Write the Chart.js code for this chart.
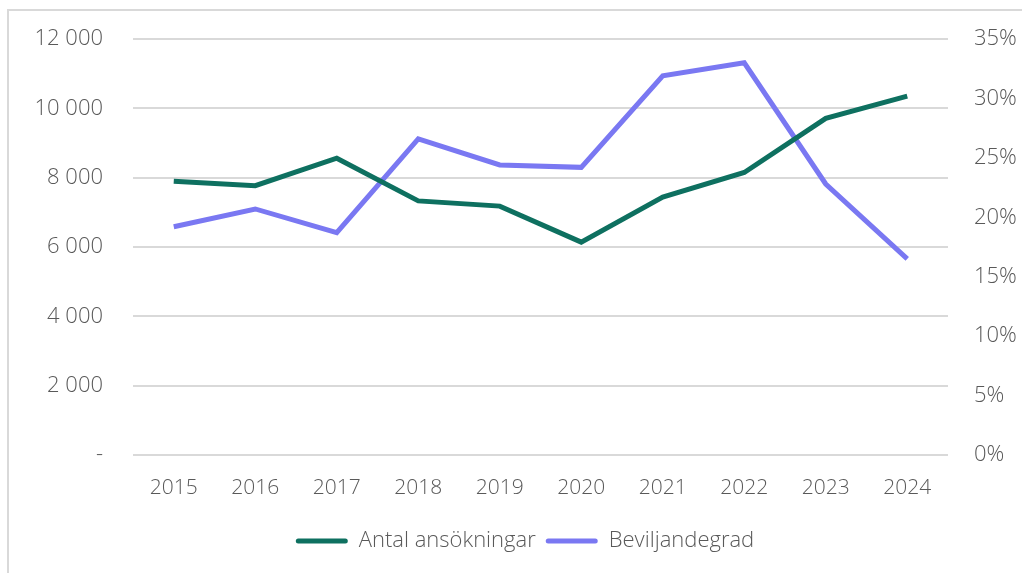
<!DOCTYPE html>
<html>
<head>
<meta charset="utf-8">
<script src="https://cdn.jsdelivr.net/npm/chart.js@4/dist/chart.umd.min.js"></script>
<style>
  html, body { margin: 0; padding: 0; background: #fff; }
  #wrap { position: relative; width: 1022px; height: 573px; }
</style>
</head>
<body>
<div id="wrap"><canvas id="chart" width="1022" height="573"></canvas></div>
<script>
// data
var years = ['2015', '2016', '2017', '2018', '2019', '2020', '2021', '2022', '2023', '2024'];
var antalAnsokningar = [7900, 7770, 8560, 7330, 7180, 6140, 7440, 8150, 9710, 10350];
var beviljandegrad = [19.2, 20.7, 18.7, 26.6, 24.4, 24.2, 31.9, 33.0, 22.8, 16.5];
var seriesNames = ['Antal ansökningar', 'Beviljandegrad'];
var seriesColors = ['#0e7060', '#7a78f2'];

var textColor = '#595959';
var gridColor = '#d9d9d9';
var fontFamily = "'Open Sans', 'Lato', sans-serif";

function fmtThousands(v) {
    if (v === 0) return '-';
    return String(v).replace(/\B(?=(\d{3})+(?!\d))/g, ' ');
}

// thin grey frame at the top left corner, as in the original
var framePlugin = {
    id: 'frame',
    beforeDraw: function(chart) {
        var ctx = chart.ctx;
        ctx.save();
        ctx.strokeStyle = gridColor;
        ctx.lineWidth = 2;
        ctx.beginPath();
        ctx.moveTo(8, 573);
        ctx.lineTo(8, 10);
        ctx.lineTo(1022, 10);
        ctx.stroke();
        ctx.restore();
    }
};

var ctx = document.getElementById('chart');
var chart = new Chart(ctx, {
    type: 'line',
    data: {
        labels: years,
        datasets: [{
            label: seriesNames[0],
            data: antalAnsokningar,
            borderColor: seriesColors[0],
            backgroundColor: seriesColors[0],
            borderWidth: 5,
            pointRadius: 0,
            tension: 0,
            yAxisID: 'y'
        }, {
            label: seriesNames[1],
            data: beviljandegrad,
            borderColor: seriesColors[1],
            backgroundColor: seriesColors[1],
            borderWidth: 5,
            pointRadius: 0,
            tension: 0,
            yAxisID: 'y1'
        }]
    },
    options: {
        responsive: false,
        animation: false,
        layout: { padding: { top: 39, bottom: 11, left: 28, right: 0 } },
        plugins: {
            tooltip: { enabled: false },
            legend: {
                position: 'bottom',
                labels: {
                    color: textColor,
                    font: { family: fontFamily, size: 22, weight: 300 },
                    boxWidth: 52,
                    boxHeight: 5,
                    padding: 10,
                    useBorderRadius: true,
                    borderRadius: 2.5,
                    generateLabels: function(chart) {
                        return chart.data.datasets.map(function(ds, i) {
                            return {
                                text: ds.label,
                                fillStyle: ds.borderColor,
                                strokeStyle: ds.borderColor,
                                lineWidth: 0,
                                fontColor: textColor,
                                datasetIndex: i,
                                borderRadius: 2.5
                            };
                        });
                    }
                }
            }
        },
        scales: {
            x: {
                offset: true,
                grid: { display: false, drawTicks: false },
                border: { display: false },
                ticks: {
                    color: textColor,
                    font: { family: fontFamily, size: 21, weight: 300 },
                    padding: 20,
                    maxRotation: 0
                },
                afterFit: function(scale) { scale.height = 65; }
            },
            y: {
                position: 'left',
                min: 0,
                max: 12000,
                // invisible tick marks give the gap between labels and grid
                grid: { color: gridColor, lineWidth: 2, drawTicks: true, tickLength: 28, tickColor: 'rgba(0,0,0,0)' },
                border: { display: false },
                ticks: {
                    stepSize: 2000,
                    color: textColor,
                    font: { family: fontFamily, size: 22, weight: 300 },
                    padding: 2,
                    callback: function(v) { return fmtThousands(v); }
                },
                afterFit: function(scale) { scale.width = 105; }
            },
            y1: {
                position: 'right',
                min: 0,
                max: 35,
                grid: { display: true, drawOnChartArea: false, drawTicks: true, tickLength: 24, tickColor: 'rgba(0,0,0,0)' },
                border: { display: false },
                ticks: {
                    stepSize: 5,
                    color: textColor,
                    font: { family: fontFamily, size: 22, weight: 300 },
                    padding: 2,
                    callback: function(v) { return v + '%'; }
                },
                afterFit: function(scale) { scale.width = 74; }
            }
        }
    },
    plugins: [framePlugin]
});
</script>
</body>
</html>
